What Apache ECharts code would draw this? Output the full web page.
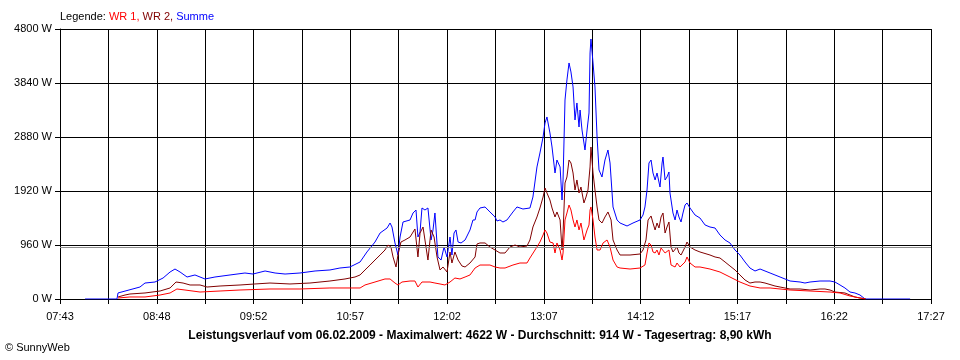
<!DOCTYPE html>
<html>
<head>
<meta charset="utf-8">
<script src="https://cdn.jsdelivr.net/npm/echarts@6/dist/echarts.min.js"></script>
<style>
html,body{margin:0;padding:0;background:#fff;}
#c{width:960px;height:360px;}
</style>
</head>
<body>
<div id="c"></div>
<script>
// Time axis: ticks every 1/18 of 07:43 .. 17:27 (minutes since midnight)
const axisStartMin = 463;
const axisEndMin = 1047;
const tickLabels = ['07:43','08:48','09:52','10:57','12:02','13:07','14:12','15:17','16:22','17:27'];
const yTicksMax = 4800;
const yStep = 960;
const averageW = 914;
const seriesNames = ['WR 1', 'WR 2', 'Summe'];

// [minutes since midnight, W]
const summe = [[479.8,0],[501.2,0],[501.9,107],[516.6,213],[520.0,284],[526.7,302],[532.1,373],[536.8,480],[540.1,533],[543.5,480],[548.2,391],[553.5,427],[556.9,391],[560.2,356],[566.9,391],[577.0,427],[587.0,462],[592.4,444],[600.5,498],[607.2,462],[613.9,444],[623.9,462],[634.0,498],[644.0,516],[650.7,551],[657.4,569],[664.2,658],[668.8,836],[674.2,1013],[677.6,1173],[682.3,1262],[684.3,1351],[685.6,1280],[687.6,996],[689.6,782],[691.0,1102],[693.0,1369],[697.7,1405],[699.7,1529],[701.7,1582],[703.0,1102],[704.4,1191],[705.7,1618],[707.7,1582],[709.7,1618],[711.8,1049],[713.1,1227],[714.4,1529],[716.4,747],[718.5,693],[720.5,924],[722.5,747],[724.5,1102],[725.8,782],[727.2,1173],[728.5,1227],[729.9,1013],[731.9,996],[734.6,1049],[737.9,1227],[739.9,1405],[741.3,1405],[742.6,1547],[744.6,1618],[748.0,1636],[751.3,1547],[754.7,1458],[756.0,1387],[758.0,1405],[760.0,1369],[762.7,1405],[766.7,1547],[769.4,1636],[773.4,1600],[778.1,1618],[780.1,1813],[782.8,2347],[784.8,2596],[786.9,2880],[788.2,3129],[789.5,3236],[791.5,2951],[792.9,2702],[794.9,2240],[796.2,2471],[798.3,2347],[799.6,1760],[800.3,2116],[801.6,3538],[802.9,3894],[804.3,4196],[805.6,4036],[807.0,3769],[808.3,3183],[809.6,3485],[811.0,3058],[811.7,3360],[813.0,3005],[815.0,2649],[816.4,3005],[817.7,3307],[818.4,4374],[819.0,4622],[820.4,4196],[821.7,3769],[823.1,2880],[824.4,2294],[826.4,2169],[828.4,2471],[830.4,2649],[831.8,2418],[833.8,1636],[836.5,1405],[838.5,1351],[843.2,1298],[847.2,1351],[851.9,1405],[853.9,1493],[855.2,1636],[856.6,1938],[857.9,2418],[859.3,2471],[860.6,2240],[862.0,2116],[863.3,2240],[865.3,1991],[866.7,2418],[867.3,2524],[868.7,2116],[870.0,2169],[871.3,2258],[872.0,1885],[874.0,1529],[875.4,1405],[876.7,1582],[878.0,1458],[879.4,1369],[880.7,1529],[882.1,1671],[883.4,1707],[885.4,1618],[888.8,1493],[892.1,1440],[895.5,1316],[898.8,1280],[902.2,1262],[905.5,1138],[908.9,1049],[912.2,996],[915.6,871],[918.9,782],[922.3,658],[925.6,551],[929.0,498],[932.4,533],[935.7,498],[939.1,462],[942.4,427],[945.8,391],[949.1,356],[952.5,320],[959.2,302],[962.5,284],[965.9,302],[972.6,320],[979.3,320],[982.6,302],[986.0,249],[989.3,196],[992.7,124],[996.0,107],[999.4,71],[1002.8,0],[1033.0,0]];

const wr2 = [[501.9,36],[506.6,71],[509.9,89],[520.0,107],[530.1,142],[536.8,196],[540.8,302],[545.5,284],[550.2,249],[556.9,249],[561.6,213],[570.3,231],[583.7,249],[593.7,267],[603.8,284],[617.2,267],[630.6,284],[644.0,320],[654.1,356],[660.8,391],[664.2,427],[667.5,516],[670.9,604],[674.2,693],[677.6,782],[680.9,871],[682.9,960],[684.9,924],[686.3,747],[688.3,569],[689.6,782],[691.6,1013],[694.3,1049],[697.7,1102],[701.0,1245],[703.0,747],[704.4,1173],[706.4,1280],[707.7,1262],[709.7,693],[711.8,1227],[713.8,1102],[715.8,747],[717.8,516],[719.8,569],[722.5,480],[724.5,836],[725.8,640],[727.8,836],[729.9,693],[732.5,587],[734.6,569],[737.9,640],[741.3,747],[742.6,978],[744.6,996],[748.0,996],[751.3,924],[754.7,871],[758.0,818],[761.4,818],[764.7,924],[768.1,960],[771.4,924],[776.1,942],[778.1,1049],[780.1,1280],[782.8,1458],[784.8,1618],[786.9,1813],[788.2,1973],[789.5,1885],[791.5,1760],[792.9,1618],[794.9,1458],[796.2,1547],[798.3,1405],[799.6,871],[800.3,1173],[801.6,2062],[802.9,2169],[804.3,2471],[805.6,2418],[807.0,2240],[808.3,1938],[809.6,2116],[811.0,1885],[812.3,1991],[814.3,1707],[815.7,1813],[817.0,1938],[818.4,2347],[819.0,2702],[820.4,2240],[821.7,1938],[823.1,1636],[824.4,1405],[826.4,1351],[828.4,1458],[830.4,1547],[832.5,1405],[833.8,1049],[836.5,871],[838.5,782],[845.2,782],[851.9,800],[853.9,871],[855.9,1049],[857.3,1405],[859.3,1476],[860.6,1351],[862.0,1227],[863.3,1351],[864.6,1262],[866.0,1458],[867.3,1529],[868.7,1173],[870.0,1280],[871.3,1369],[872.7,924],[874.0,836],[876.7,924],[878.0,818],[879.4,782],[882.1,924],[883.4,1013],[885.4,924],[888.8,871],[892.1,836],[898.8,782],[902.2,747],[905.5,729],[908.9,658],[912.2,587],[915.6,516],[918.9,427],[922.3,338],[925.6,284],[929.0,302],[932.4,302],[935.7,284],[942.4,231],[945.8,213],[952.5,178],[959.2,178],[965.9,160],[972.6,178],[975.9,178],[979.3,160],[982.6,124],[989.3,107],[992.7,71],[996.0,36],[999.4,18],[1003.4,0]];

const wr1 = [[501.9,18],[509.9,36],[520.0,36],[530.1,71],[536.8,107],[541.4,178],[546.8,160],[556.9,124],[570.3,142],[583.7,160],[603.8,178],[623.9,178],[644.0,196],[664.2,196],[667.5,249],[674.2,302],[680.9,356],[684.3,356],[687.6,284],[689.6,249],[692.3,302],[697.7,320],[701.0,320],[703.0,213],[705.7,302],[711.1,302],[714.4,284],[717.8,267],[721.1,249],[724.5,302],[727.8,373],[731.2,356],[734.6,391],[737.9,427],[741.3,551],[744.6,604],[751.3,604],[754.7,569],[758.0,551],[761.4,551],[766.7,604],[771.4,640],[776.1,640],[778.1,729],[781.5,871],[784.8,1013],[786.9,1138],[788.2,1227],[789.5,1173],[791.5,1013],[793.6,996],[794.9,818],[796.2,996],[798.3,871],[799.6,693],[800.3,818],[801.6,1405],[802.9,1529],[804.3,1671],[805.6,1582],[807.0,1405],[808.3,1280],[809.6,1405],[811.0,1227],[812.3,1351],[814.3,1049],[816.4,1227],[817.7,1316],[818.4,1582],[819.0,1636],[820.4,1405],[821.7,1102],[823.1,871],[825.1,871],[827.1,996],[829.8,1049],[831.8,924],[833.8,693],[836.5,569],[838.5,551],[845.2,533],[851.9,551],[855.2,604],[856.6,818],[857.9,996],[859.3,960],[860.6,836],[862.0,818],[863.3,871],[864.6,782],[866.0,907],[867.3,924],[868.7,818],[871.3,871],[872.7,604],[875.4,569],[876.7,640],[878.7,569],[882.1,658],[883.4,747],[885.4,640],[888.8,569],[892.1,569],[898.8,533],[905.5,480],[912.2,391],[918.9,302],[925.6,231],[932.4,196],[939.1,196],[952.5,160],[965.9,142],[979.3,124],[986.0,107],[992.7,53],[999.4,18],[1002.8,0]];

const nSteps = (tickLabels.length - 1) * 2;
const stepMin = (axisEndMin - axisStartMin) / nSteps;
const toX = arr => arr.map(p => [(p[0] - axisStartMin) / stepMin, p[1]]);

const FONT = 'Liberation Sans';
const chart = echarts.init(document.getElementById('c'), null, {renderer: 'canvas'});
chart.setOption({
  backgroundColor: '#ffffff',
  animation: false,
  textStyle: {fontFamily: FONT},
  title: [
    {
      left: 60, top: 11, padding: 0,
      text: '{k|Legende: }{a|WR 1, }{b|WR 2, }{c|Summe}',
      textStyle: {
        fontSize: 11, fontWeight: 'normal', fontFamily: FONT,
        rich: {
          k: {color: '#000000', fontSize: 11, fontFamily: FONT},
          a: {color: '#ff0000', fontSize: 11, fontFamily: FONT},
          b: {color: '#800000', fontSize: 11, fontFamily: FONT},
          c: {color: '#0000ff', fontSize: 11, fontFamily: FONT}
        }
      }
    },
    {
      left: 'center', top: 330, padding: 0,
      text: 'Leistungsverlauf vom 06.02.2009 - Maximalwert: 4622 W - Durchschnitt: 914 W - Tagesertrag: 8,90 kWh',
      textStyle: {fontSize: 12, fontWeight: 'bold', color: '#000', fontFamily: FONT}
    },
    {
      left: 5, top: 342, padding: 0,
      text: '\u00a9 SunnyWeb',
      textStyle: {fontSize: 11, fontWeight: 'normal', color: '#000', fontFamily: FONT}
    }
  ],
  grid: {left: 60, right: 29, top: 29, bottom: 61, containLabel: false},
  xAxis: {
    type: 'value', min: 0, max: nSteps, interval: 1,
    axisLine: {show: true, lineStyle: {color: '#000', width: 1}},
    axisTick: {show: true, length: 5, lineStyle: {color: '#000', width: 1}},
    splitLine: {show: true, lineStyle: {color: '#000', width: 1}},
    axisLabel: {
      color: '#000', fontSize: 11, fontFamily: FONT, margin: 12,
      formatter: v => (Math.round(v) % 2 === 0 ? tickLabels[Math.round(v) / 2] : '')
    }
  },
  yAxis: {
    type: 'value', min: 0, max: yTicksMax, interval: yStep,
    axisLine: {show: true, lineStyle: {color: '#000', width: 1}},
    axisTick: {show: true, length: 5, lineStyle: {color: '#000', width: 1}},
    splitLine: {show: true, lineStyle: {color: '#000', width: 1}},
    axisLabel: {color: '#000', fontSize: 11, fontFamily: FONT, margin: 8, formatter: v => v + ' W'}
  },
  series: [
    {
      name: seriesNames[2], type: 'line', data: toX(summe), showSymbol: false, symbol: 'none',
      lineStyle: {color: '#0000ff', width: 1}, itemStyle: {color: '#0000ff'},
      markLine: {
        silent: true, symbol: 'none', label: {show: false},
        lineStyle: {color: '#8c8c8c', width: 1, type: 'solid'},
        data: [{yAxis: averageW}]
      }
    },
    {
      name: seriesNames[1], type: 'line', data: toX(wr2), showSymbol: false, symbol: 'none',
      lineStyle: {color: '#800000', width: 1}, itemStyle: {color: '#800000'}
    },
    {
      name: seriesNames[0], type: 'line', data: toX(wr1), showSymbol: false, symbol: 'none',
      lineStyle: {color: '#ff0000', width: 1}, itemStyle: {color: '#ff0000'}
    }
  ]
});
</script>
</body>
</html>
